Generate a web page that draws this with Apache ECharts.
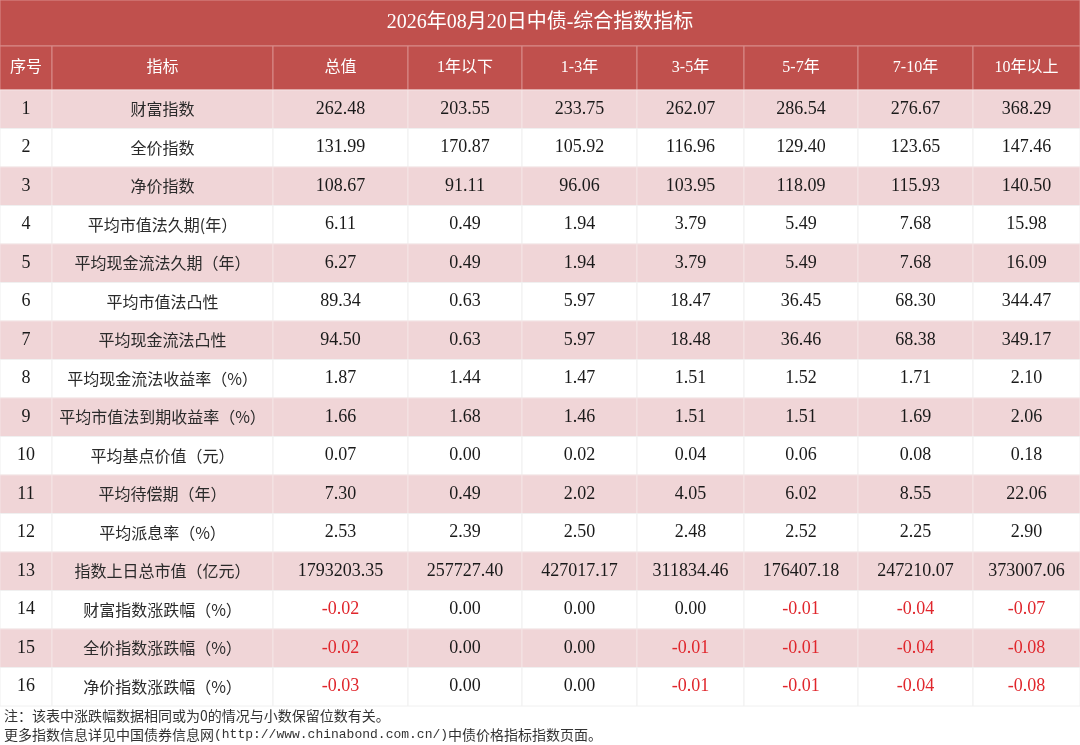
<!DOCTYPE html>
<html>
<head>
<meta charset="utf-8">
<title>中债-综合指数指标</title>
<script src="https://cdn.jsdelivr.net/npm/echarts@6/dist/echarts.min.js"></script>
<style>
html, body { margin: 0; padding: 0; background: #fff; }
#my-table { width: 1080px; height: 745px; }
</style>
</head>
<body>
<div id="my-table"></div>
<script>
// 表格数据
var tableTitle = '2026年08月20日中债-综合指数指标';
var headers = ['序号', '指标', '总值', '1年以下', '1-3年', '3-5年', '5-7年', '7-10年', '10年以上'];
var seqNos = [1, 2, 3, 4, 5, 6, 7, 8, 9, 10, 11, 12, 13, 14, 15, 16];
var indicators = [
  '财富指数', '全价指数', '净价指数', '平均市值法久期(年）', '平均现金流法久期（年）',
  '平均市值法凸性', '平均现金流法凸性', '平均现金流法收益率（%）', '平均市值法到期收益率（%）',
  '平均基点价值（元）', '平均待偿期（年）', '平均派息率（%）', '指数上日总市值（亿元）',
  '财富指数涨跌幅（%）', '全价指数涨跌幅（%）', '净价指数涨跌幅（%）'
];
var totalVals  = [262.48, 131.99, 108.67, 6.11, 6.27, 89.34, 94.50, 1.87, 1.66, 0.07, 7.30, 2.53, 1793203.35, -0.02, -0.02, -0.03];
var under1Vals = [203.55, 170.87, 91.11, 0.49, 0.49, 0.63, 0.63, 1.44, 1.68, 0.00, 0.49, 2.39, 257727.40, 0.00, 0.00, 0.00];
var y1to3Vals  = [233.75, 105.92, 96.06, 1.94, 1.94, 5.97, 5.97, 1.47, 1.46, 0.02, 2.02, 2.50, 427017.17, 0.00, 0.00, 0.00];
var y3to5Vals  = [262.07, 116.96, 103.95, 3.79, 3.79, 18.47, 18.48, 1.51, 1.51, 0.04, 4.05, 2.48, 311834.46, 0.00, -0.01, -0.01];
var y5to7Vals  = [286.54, 129.40, 118.09, 5.49, 5.49, 36.45, 36.46, 1.52, 1.51, 0.06, 6.02, 2.52, 176407.18, -0.01, -0.01, -0.01];
var y7to10Vals = [276.67, 123.65, 115.93, 7.68, 7.68, 68.30, 68.38, 1.71, 1.69, 0.08, 8.55, 2.25, 247210.07, -0.04, -0.04, -0.04];
var over10Vals = [368.29, 147.46, 140.50, 15.98, 16.09, 344.47, 349.17, 2.10, 2.06, 0.18, 22.06, 2.90, 373007.06, -0.07, -0.08, -0.08];
var note1 = '注：该表中涨跌幅数据相同或为0的情况与小数保留位数有关。';
var note2 = '更多指数信息详见中国债券信息网{m|(http://www.chinabond.com.cn/)}中债价格指标指数页面。';

// 版式 (坐标轴单位)
var colEdges = [0, 52, 273, 408, 522, 637, 744, 858, 973, 1080];
var TITLE_H = 46, HEAD_H = 44, ROW_H = 38.5;

var columns = [seqNos, indicators, totalVals, under1Vals, y1to3Vals, y3to5Vals, y5to7Vals, y7to10Vals, over10Vals];
var NUM_FONT = "'Liberation Serif', 'Noto Sans CJK SC', serif";
var CN_FONT = "'Noto Sans CJK SC', 'Liberation Serif', sans-serif";
var RED = '#c0504d', PINK = '#f0d5d7';

function cellBox(api, x0, x1, y0, y1) {
  var p0 = api.coord([x0, y0]);
  var p1 = api.coord([x1, y1]);
  return { x: p0[0], y: p0[1], width: p1[0] - p0[0], height: p1[1] - p0[1] };
}

function cellItem(box, fill, stroke, text, color, size, family) {
  return {
    type: 'group',
    children: [
      { type: 'rect', shape: box, style: { fill: fill, stroke: stroke, lineWidth: 1 } },
      {
        type: 'text',
        style: {
          x: box.x + box.width / 2,
          y: box.y + box.height / 2,
          text: text,
          fill: color,
          fontSize: size,
          fontFamily: family,
          align: 'center',
          verticalAlign: 'middle'
        }
      }
    ]
  };
}

var headData = [], bodyData = [];
for (var c = 0; c < headers.length; c++) headData.push([c, 0]);
for (var r = 0; r < seqNos.length; r++) {
  for (var k = 0; k < columns.length; k++) bodyData.push([k, r]);
}

function Table_1() {
  var getID_1 = echarts.init(document.getElementById('my-table'));
  option = {
    animation: false,
    title: [
      { text: note1, left: 4, top: 709, padding: 0,
        textStyle: { fontSize: 14, fontWeight: 'normal', color: '#333', fontFamily: CN_FONT } },
      { text: note2, left: 4, top: 728, padding: 0,
        textStyle: { fontSize: 14, fontWeight: 'normal', color: '#333', fontFamily: CN_FONT,
          rich: { m: { fontSize: 13, color: '#333', fontFamily: "'Liberation Mono', monospace" } } } }
    ],
    grid: { left: 0, top: 0, width: 1080, height: TITLE_H + HEAD_H + ROW_H * seqNos.length },
    xAxis: { type: 'value', min: 0, max: colEdges[colEdges.length - 1], show: false },
    yAxis: { type: 'value', min: 0, max: TITLE_H + HEAD_H + ROW_H * seqNos.length, inverse: true, show: false },
    series: [
      {
        name: '标题',
        type: 'custom',
        data: [[0, 0]],
        renderItem: function (params, api) {
          var box = cellBox(api, colEdges[0], colEdges[colEdges.length - 1], 0, TITLE_H);
          return cellItem(box, RED, '#d98c8b', tableTitle, '#fff', 20, NUM_FONT);
        }
      },
      {
        name: '表头',
        type: 'custom',
        data: headData,
        renderItem: function (params, api) {
          var c = api.value(0);
          var box = cellBox(api, colEdges[c], colEdges[c + 1], TITLE_H, TITLE_H + HEAD_H);
          return cellItem(box, RED, '#d98c8b', headers[c], '#fff', 16, NUM_FONT);
        }
      },
      {
        name: '数据',
        type: 'custom',
        data: bodyData,
        renderItem: function (params, api) {
          var c = api.value(0), r = api.value(1);
          var y0 = TITLE_H + HEAD_H + r * ROW_H;
          var box = cellBox(api, colEdges[c], colEdges[c + 1], y0, y0 + ROW_H);
          var v = columns[c][r];
          var text, color = '#1a1a1a', size = 18, family = NUM_FONT;
          if (c === 0) {
            text = String(v);
          } else if (c === 1) {
            text = v; size = 16; family = CN_FONT; color = '#2a2a2a';
          } else {
            text = v.toFixed(2);
            if (v < 0) color = '#e0262c';
          }
          var fill = r % 2 === 0 ? PINK : '#ffffff';
          var stroke = r % 2 === 0 ? '#f4e4e5' : '#f0f0f0';
          return cellItem(box, fill, stroke, text, color, size, family);
        }
      }
    ]
  };
  getID_1.setOption(option);
  window.addEventListener('resize', function () {
    getID_1.resize();
  });
}

Table_1();
</script>
</body>
</html>
